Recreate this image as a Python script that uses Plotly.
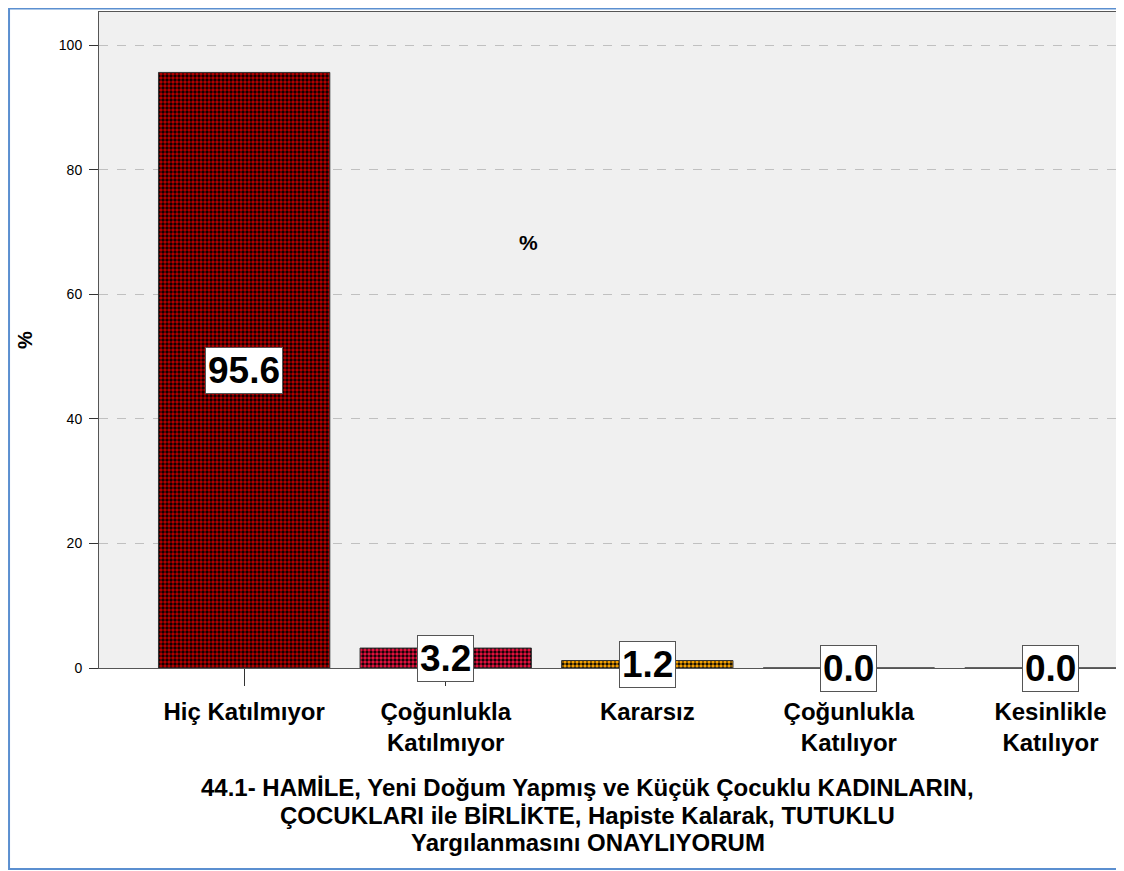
import plotly.graph_objects as go

categories = ["Hiç Katılmıyor", "Çoğunlukla<br>Katılmıyor", "Kararsız", "Çoğunlukla<br>Katılıyor", "Kesinlikle<br>Katılıyor"]
values = [95.6, 3.2, 1.2, 0.0, 0.0]
bar_colors = ["#b00000", "#e0103c", "#f5a000", "#888888", "#888888"]
y_ticks = [0, 20, 40, 60, 80, 100]
x_title_lines = [
    "44.1- HAMİLE, Yeni Doğum Yapmış ve Küçük Çocuklu KADINLARIN,",
    "ÇOCUKLARI ile BİRLİKTE, Hapiste Kalarak, TUTUKLU",
    "Yargılanmasını ONAYLIYORUM",
]

fig = go.Figure()
fig.add_trace(go.Bar(
    x=categories, y=values, width=0.85,
    marker=dict(
        color="#000000",
        line=dict(color="#333333", width=1),
        pattern=dict(shape=".", fgcolor=bar_colors, fgopacity=1, size=4, solidity=0.6, fillmode="overlay"),
    ),
    showlegend=False, hoverinfo="skip",
))

for c, v in zip(categories, values):
    fig.add_annotation(
        x=c, y=v / 2, text="<b>%.1f</b>" % v, showarrow=False,
        font=dict(family="Liberation Sans, Arial", size=37, color="black"),
        bgcolor="white", bordercolor="#555555", borderwidth=1, borderpad=2,
    )

fig.add_annotation(x=0.4206, y=0.648, xref="paper", yref="paper", text="<b>%</b>", showarrow=False,
                   font=dict(family="Liberation Sans, Arial", size=21, color="black"))

for i, line in enumerate(x_title_lines):
    fig.add_annotation(x=0.479, y=-0.1825 - 0.042 * i, xref="paper", yref="paper",
                       text="<b>" + line + "</b>", showarrow=False, yanchor="middle",
                       font=dict(family="Liberation Sans, Arial", size=24, color="black"))

fig.add_shape(type="rect", xref="paper", yref="paper",
              x0=-0.0882, x1=1.01, y0=-0.3064, y1=1.0053,
              line=dict(color="#5b8fd0", width=2), fillcolor="rgba(0,0,0,0)", layer="below")

fig.update_layout(
    width=1116, height=863,
    margin=dict(l=91, r=5, t=4, b=203, autoexpand=False),
    paper_bgcolor="white", plot_bgcolor="#f0f0f0",
    font=dict(family="Liberation Sans, Arial", color="black"),
    xaxis=dict(
        type="category", range=[-0.72, 4.34], automargin=False,
        tickfont=dict(size=24, family="Liberation Sans, Arial"),
        tickprefix="<b>", ticksuffix="</b>",
        ticks="outside", ticklen=17, tickcolor="#333333", ticklabelstandoff=5,
        showline=True, linecolor="#555555", linewidth=1, mirror=True,
        showgrid=False, zeroline=False,
    ),
    yaxis=dict(
        range=[0, 105.3], tickvals=y_ticks, automargin=False,
        tickfont=dict(size=14),
        ticks="outside", ticklen=9, tickcolor="#333333", ticklabelstandoff=4,
        showline=True, linecolor="#555555", linewidth=1, mirror=True,
        showgrid=True, gridcolor="#c0c0c0", griddash="dash", gridwidth=1,
        zeroline=False,
        title=dict(text="<b>%</b>", font=dict(size=20), standoff=20),
    ),
)

fig.write_html("out.html")
